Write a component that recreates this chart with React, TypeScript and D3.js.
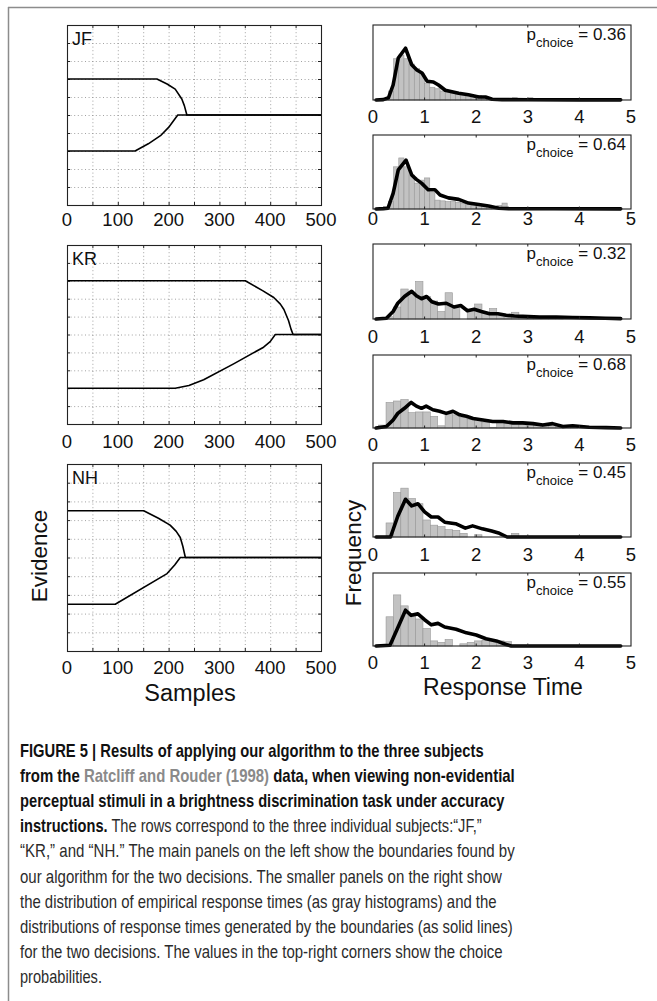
import * as d3 from 'd3';
import { useEffect, useRef } from 'react';

// ---- data ----
const subjects = ['JF', 'KR', 'NH'];
const sampleGridTicks = [0, 50, 100, 150, 200, 250, 300, 350, 400, 450, 500];
const sampleTickLabels = [0, 100, 200, 300, 400, 500];
const evidenceGridTicks = [-4, -3, -2, -1, 0, 1, 2, 3, 4];
const timeTicks = [0, 1, 2, 3, 4, 5];

// decision boundaries: [samples, evidence]
const jfUpper = [[0, 2], [177, 2], [197, 1.72], [213, 1.44], [226, 0.89], [231, 0.52], [236, 0], [500, 0]];
const jfLower = [[0, -2], [134, -2], [160, -1.6], [184, -1.15], [200, -0.69], [218, 0], [500, 0]];
const krUpper = [[0, 3], [351, 3], [385, 2.45], [407, 2.07], [420, 1.7], [427, 1.4], [436, 0.78], [441, 0.3], [445, 0], [500, 0]];
const krLower = [[0, -3], [213, -3], [240, -2.85], [269, -2.53], [328, -1.64], [387, -0.71], [400, -0.4], [410, 0], [500, 0]];
const nhUpper = [[0, 2.5], [151, 2.5], [180, 2.1], [203, 1.73], [215, 1.4], [223, 1.07], [228, 0.6], [233, 0], [500, 0]];
const nhLower = [[0, -2.5], [95, -2.5], [197, -0.86], [212, -0.4], [223, 0], [500, 0]];

// histogram bins (start, width) and bar heights (% of panel height)
const jfBinStart = 0.2;
const jfBinWidth = 0.1;
const krnhBinStart = 0.11;
const krnhBinWidth = 0.143;

const jfChoiceA = [2, 12, 55, 60, 55, 48, 42, 35, 22, 17, 15, 12, 10, 9, 8, 7, 6, 6, 6, 4, 3, 2, 1, 1, 1, 3, 1, 1, 3];
const jfChoiceB = [3, 10, 57, 69, 57, 46, 35, 39, 42, 22, 12, 11, 10, 10, 9, 8, 7, 5, 5, 4, 3, 3, 5, 8, 2, 1, 1, 0, 1];
const krChoiceA = [0, 3, 16, 40, 35, 50, 30, 24, 10, 35, 15, 0, 13, 20, 8, 14, 7, 5, 9, 4, 3, 3, 2, 2, 1];
const krChoiceB = [4, 35, 37, 39, 21, 22, 22, 16, 3, 20, 18, 15, 12, 10, 8, 1, 8, 7, 6, 5, 5, 4, 3, 3, 2, 2, 1];
const nhChoiceA = [0, 19, 60, 66, 52, 45, 23, 16, 14, 10, 9, 5, 0, 3, 0, 0, 0, 1, 5, 1, 1];
const nhChoiceB = [0, 40, 70, 55, 43, 37, 24, 7, 5, 9, 0, 3, 5, 7, 8, 6, 7, 6];

// model RT distributions: [time, % of panel height]
const jfModelA = [[0.06, 0], [0.2, 0.5], [0.3, 3], [0.39, 20], [0.49, 56], [0.63, 69], [0.75, 47], [0.85, 40], [0.95, 36], [1.05, 25], [1.17, 24], [1.27, 20], [1.4, 13], [1.53, 11], [1.66, 9], [1.85, 7], [2.05, 4], [2.18, 4], [2.31, 1], [2.5, 0.5], [3, 0.3], [4, 0.2], [4.8, 0.2]];
const jfModelB = [[0.06, 0], [0.2, 0.5], [0.29, 1], [0.39, 21], [0.49, 53], [0.64, 66], [0.75, 46], [0.84, 40], [0.94, 35], [1.07, 26], [1.2, 26], [1.3, 19], [1.46, 15], [1.66, 13], [1.85, 8], [2.05, 6], [2.24, 4], [2.44, 1], [2.63, 0.5], [3.5, 0.3], [4.8, 0.2]];
const krModelA = [[0.06, 0], [0.26, 1], [0.39, 10], [0.48, 21], [0.61, 30], [0.75, 37], [0.84, 31], [0.94, 27], [1.04, 30], [1.14, 23], [1.27, 20], [1.42, 21], [1.57, 16], [1.7, 18], [1.83, 11], [1.96, 13], [2.1, 10], [2.26, 7], [2.42, 7], [2.58, 5], [2.74, 4], [2.9, 3.5], [3.23, 2.5], [3.55, 2.5], [3.87, 2], [4.2, 1.5], [4.5, 1], [4.8, 0.5]];
const krModelB = [[0.06, 0], [0.26, 2], [0.39, 11], [0.48, 20], [0.61, 27], [0.74, 35], [0.84, 30], [0.94, 27], [1.03, 30], [1.16, 25], [1.29, 23], [1.42, 20], [1.55, 23], [1.68, 18], [1.81, 16], [1.94, 13], [2.13, 11], [2.32, 9], [2.52, 9], [2.71, 7], [2.9, 7], [3.1, 6], [3.29, 4], [3.48, 6], [3.68, 2], [3.87, 3], [4.19, 1], [4.52, 0.5], [4.8, 0]];
const nhModelA = [[0.06, 0], [0.34, 0], [0.48, 28], [0.63, 51], [0.75, 42], [0.87, 45], [1.0, 34], [1.13, 27], [1.26, 27], [1.39, 20], [1.6, 18], [1.79, 12], [1.93, 15], [2.12, 11], [2.3, 8], [2.45, 5], [2.6, 0], [4.8, 0]];
const nhModelB = [[0.06, 0], [0.33, 1], [0.63, 49], [0.74, 42], [0.87, 44], [1.0, 36], [1.13, 29], [1.26, 31], [1.39, 26], [1.61, 23], [1.81, 18], [2.0, 15], [2.19, 10], [2.39, 7], [2.58, 2], [2.68, 0], [4.8, 0]];

const choiceProbs = ['0.36', '0.64', '0.32', '0.68', '0.45', '0.55'];

const captionLines = [
  [{ t: 'FIGURE 5 | Results of applying our algorithm to the three subjects', b: true }],
  [{ t: 'from the ', b: true }, { t: 'Ratcliff and Rouder (1998)', b: true, c: '#8a8a8a' }, { t: ' data, when viewing non-evidential', b: true }],
  [{ t: 'perceptual stimuli in a brightness discrimination task under accuracy', b: true }],
  [{ t: 'instructions.', b: true }, { t: ' The rows correspond to the three individual subjects:\u201cJF,\u201d' }],
  [{ t: '\u201cKR,\u201d and \u201cNH.\u201d The main panels on the left show the boundaries found by' }],
  [{ t: 'our algorithm for the two decisions. The smaller panels on the right show' }],
  [{ t: 'the distribution of empirical response times (as gray histograms) and the' }],
  [{ t: 'distributions of response times generated by the boundaries (as solid lines)' }],
  [{ t: 'for the two decisions. The values in the top-right corners show the choice' }],
  [{ t: 'probabilities.' }],
];
const captionWidths = [464, 495, 485, 462, 495, 482, 477, 493, 483, 82];

const FONT = '"Liberation Sans", Arial, Helvetica, sans-serif';
const CAPTION_FONT = '"Liberation Sans Narrow", "Arial Narrow", "Liberation Sans", Arial, sans-serif';

export default function App() {
  const ref = useRef(null);

  useEffect(() => {
    const W = 657;
    const H = 1001;
    const svg = d3.select(ref.current);
    svg.selectAll('*').remove();
    svg.attr('width', W).attr('height', H).attr('viewBox', `0 0 ${W} ${H}`);

    svg.append('rect').attr('width', W).attr('height', H).attr('fill', '#fff');

    // outer frame: top + left rules only
    svg.append('line').attr('x1', 8).attr('x2', W).attr('y1', 7.5).attr('y2', 7.5)
      .attr('stroke', '#8c8c8c').attr('stroke-width', 1.5);
    svg.append('line').attr('x1', 8.5).attr('x2', 8.5).attr('y1', 7).attr('y2', H)
      .attr('stroke', '#8c8c8c').attr('stroke-width', 1.5);

    // ---- left: boundary panels ----
    const boundaries = [[jfUpper, jfLower], [krUpper, krLower], [nhUpper, nhLower]];
    const leftBoxes = [
      { top: 25, bottom: 205, label: 226 },
      { top: 245, bottom: 424, label: 448 },
      { top: 464, bottom: 651, label: 674 },
    ];

    leftBoxes.forEach((box, i) => {
      const x = d3.scaleLinear().domain([0, 500]).range([67, 321]);
      const y = d3.scaleLinear().domain([-5, 5]).range([box.bottom, box.top]);
      const g = svg.append('g');

      g.selectAll('line.vgrid')
        .data(sampleGridTicks.slice(1, -1))
        .enter().append('line')
        .attr('x1', (d) => x(d) + 0.5).attr('x2', (d) => x(d) + 0.5)
        .attr('y1', box.top).attr('y2', box.bottom)
        .attr('stroke', '#8a8a8a').attr('stroke-width', 0.8).attr('stroke-dasharray', '1 2.6');
      g.selectAll('line.hgrid')
        .data(evidenceGridTicks)
        .enter().append('line')
        .attr('x1', 67).attr('x2', 321)
        .attr('y1', (d) => y(d) + 0.5).attr('y2', (d) => y(d) + 0.5)
        .attr('stroke', '#8a8a8a').attr('stroke-width', 0.8).attr('stroke-dasharray', '1 2.6');

      // ticks, inward, all four sides
      g.selectAll('g.xt')
        .data(sampleGridTicks.slice(1, -1))
        .enter().append('g')
        .each(function (d) {
          const s = d3.select(this);
          s.append('line').attr('x1', x(d) + 0.5).attr('x2', x(d) + 0.5).attr('y1', box.bottom).attr('y2', box.bottom - 3).attr('stroke', '#222');
          s.append('line').attr('x1', x(d) + 0.5).attr('x2', x(d) + 0.5).attr('y1', box.top).attr('y2', box.top + 3).attr('stroke', '#222');
        });
      g.selectAll('g.yt')
        .data(evidenceGridTicks)
        .enter().append('g')
        .each(function (d) {
          const s = d3.select(this);
          s.append('line').attr('x1', 67).attr('x2', 70).attr('y1', y(d) + 0.5).attr('y2', y(d) + 0.5).attr('stroke', '#222');
          s.append('line').attr('x1', 321).attr('x2', 318).attr('y1', y(d) + 0.5).attr('y2', y(d) + 0.5).attr('stroke', '#222');
        });

      const line = d3.line().x((d) => x(d[0])).y((d) => y(d[1]));
      boundaries[i].forEach((b) => {
        g.append('path').attr('d', line(b)).attr('fill', 'none')
          .attr('stroke', '#000').attr('stroke-width', 1.6).attr('stroke-linejoin', 'round');
      });

      g.append('rect').attr('x', 67.5).attr('y', box.top + 0.5)
        .attr('width', 254).attr('height', box.bottom - box.top)
        .attr('fill', 'none').attr('stroke', '#222').attr('stroke-width', 1.1);

      g.append('text').attr('x', 72).attr('y', box.top + 20)
        .style('font-family', FONT).style('font-size', '18px').attr('fill', '#111')
        .text(subjects[i]);

      g.selectAll('text.tick')
        .data(sampleTickLabels)
        .enter().append('text')
        .attr('x', (d) => x(d)).attr('y', box.label)
        .attr('text-anchor', 'middle')
        .style('font-family', FONT).style('font-size', '18.5px').attr('fill', '#111')
        .text((d) => d);
    });

    svg.append('text')
      .attr('transform', 'translate(47,556) rotate(-90)')
      .attr('text-anchor', 'middle')
      .style('font-family', FONT).style('font-size', '22.5px').attr('fill', '#111')
      .text('Evidence');
    svg.append('text')
      .attr('x', 190).attr('y', 701)
      .attr('text-anchor', 'middle')
      .style('font-family', FONT).style('font-size', '23.5px').attr('fill', '#111')
      .text('Samples');

    // ---- right: RT histograms ----
    const hists = [
      { counts: jfChoiceA, model: jfModelA, start: jfBinStart, width: jfBinWidth, top: 25, bottom: 100, label: 123 },
      { counts: jfChoiceB, model: jfModelB, start: jfBinStart, width: jfBinWidth, top: 135, bottom: 209, label: 225 },
      { counts: krChoiceA, model: krModelA, start: krnhBinStart, width: krnhBinWidth, top: 244, bottom: 319, label: 343 },
      { counts: krChoiceB, model: krModelB, start: krnhBinStart, width: krnhBinWidth, top: 355, bottom: 428, label: 451 },
      { counts: nhChoiceA, model: nhModelA, start: krnhBinStart, width: krnhBinWidth, top: 463, bottom: 537, label: 561 },
      { counts: nhChoiceB, model: nhModelB, start: krnhBinStart, width: krnhBinWidth, top: 573, bottom: 646, label: 669 },
    ];

    hists.forEach((h, i) => {
      const x = d3.scaleLinear().domain([0, 5]).range([373, 631]);
      const y = d3.scaleLinear().domain([0, 100]).range([h.bottom, h.top]);
      const g = svg.append('g');

      g.selectAll('rect.bar')
        .data(h.counts.map((v, k) => ({ v, x0: h.start + k * h.width })))
        .enter().append('rect')
        .attr('x', (d) => x(d.x0))
        .attr('y', (d) => y(d.v))
        .attr('width', (d) => x(d.x0 + h.width) - x(d.x0))
        .attr('height', (d) => h.bottom - y(d.v))
        .attr('fill', '#c2c2c2').attr('stroke', '#979797').attr('stroke-width', 0.6);

      const line = d3.line().x((d) => x(d[0])).y((d) => y(d[1]));
      g.append('path').attr('d', line(h.model)).attr('fill', 'none')
        .attr('stroke', '#000').attr('stroke-width', 3.6)
        .attr('stroke-linejoin', 'round').attr('stroke-linecap', 'round');

      g.append('rect').attr('x', 373).attr('y', h.top)
        .attr('width', 258).attr('height', h.bottom - h.top)
        .attr('fill', 'none').attr('stroke', '#222').attr('stroke-width', 1.1);

      g.selectAll('g.t')
        .data(timeTicks.slice(1, -1))
        .enter().append('g')
        .each(function (d) {
          const s = d3.select(this);
          s.append('line').attr('x1', x(d)).attr('x2', x(d)).attr('y1', h.bottom).attr('y2', h.bottom - 2.5).attr('stroke', '#222');
          s.append('line').attr('x1', x(d)).attr('x2', x(d)).attr('y1', h.top).attr('y2', h.top + 2.5).attr('stroke', '#222');
        });

      g.selectAll('text.tick')
        .data(timeTicks)
        .enter().append('text')
        .attr('x', (d) => x(d)).attr('y', h.label)
        .attr('text-anchor', 'middle')
        .style('font-family', FONT).style('font-size', '18.5px').attr('fill', '#111')
        .text((d) => d);

      const pt = g.append('text')
        .attr('x', 626).attr('y', h.top + 15)
        .attr('text-anchor', 'end')
        .style('font-family', FONT).style('font-size', '17px').attr('fill', '#111');
      pt.append('tspan').text('p');
      pt.append('tspan').attr('dy', 7).style('font-size', '13px').text('choice');
      pt.append('tspan').attr('dy', -7).text(` = ${choiceProbs[i]}`);
    });

    svg.append('text')
      .attr('transform', 'translate(361,553) rotate(-90)')
      .attr('text-anchor', 'middle')
      .style('font-family', FONT).style('font-size', '22.5px').attr('fill', '#111')
      .text('Frequency');
    svg.append('text')
      .attr('x', 503).attr('y', 695)
      .attr('text-anchor', 'middle')
      .style('font-family', FONT).style('font-size', '23px').attr('fill', '#111')
      .text('Response Time');

    // ---- caption: one text per line, stretched horizontally to the measured line width ----
    captionLines.forEach((segs, i) => {
      const t = svg.append('text')
        .attr('x', 0).attr('y', 0)
        .style('font-family', CAPTION_FONT).style('font-size', '17.5px')
        .style('white-space', 'pre');
      segs.forEach((s) => {
        t.append('tspan')
          .attr('font-weight', s.b ? 'bold' : 'normal')
          .attr('fill', s.c || (s.b ? '#111' : '#2b2b2b'))
          .text(s.t);
      });
      const natural = t.node().getComputedTextLength();
      const k = captionWidths[i] / natural;
      t.attr('transform', `translate(20,${757 + i * 25.1}) scale(${k},1)`);
    });

    return () => {
      svg.selectAll('*').remove();
    };
  }, []);

  return (
    <svg
      ref={ref}
      style={{ position: 'absolute', left: 0, top: 0, display: 'block' }}
    />
  );
}
